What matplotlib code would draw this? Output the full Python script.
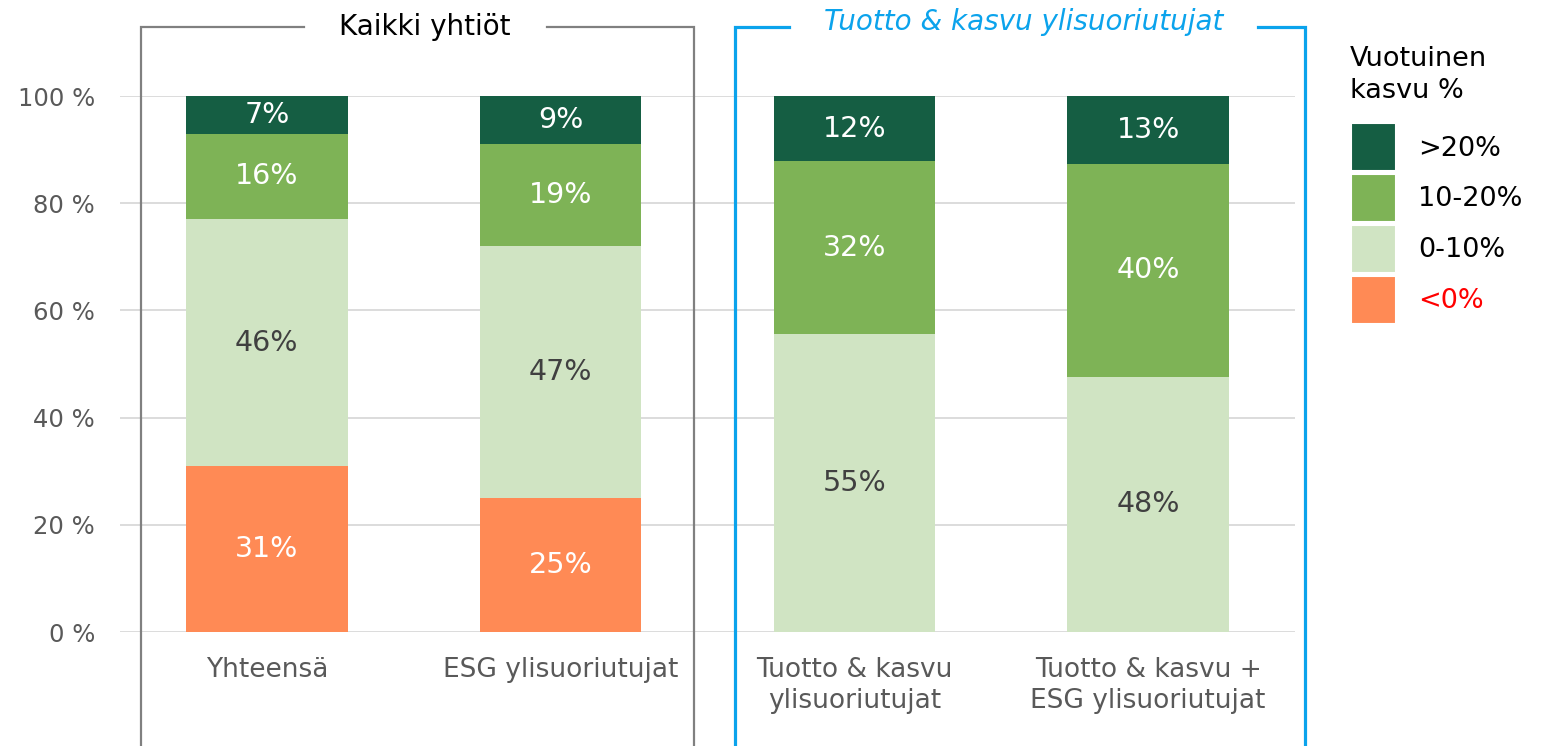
import matplotlib
matplotlib.use("Agg")
import matplotlib.pyplot as plt
from matplotlib.lines import Line2D
from matplotlib.patches import Patch
import numpy as np

categories = ["Yhteensä", "ESG ylisuoriutujat",
              "Tuotto & kasvu\nylisuoriutujat", "Tuotto & kasvu +\nESG ylisuoriutujat"]
series_names = ["<0%", "0-10%", "10-20%", ">20%"]
neg = [31, 25, 0, 0]
low = [46, 47, 55.6, 47.6]
mid = [16, 19, 32.2, 39.7]
high = [7, 9, 12.2, 12.7]
labels_neg = ["31%", "25%", "", ""]
labels_low = ["46%", "47%", "55%", "48%"]
labels_mid = ["16%", "19%", "32%", "40%"]
labels_high = ["7%", "9%", "12%", "13%"]
yticks = [0, 20, 40, 60, 80, 100]
group_titles = ["Kaikki yhtiöt", "Tuotto & kasvu ylisuoriutujat"]

colors = ["#FF8A55", "#D0E4C3", "#7EB356", "#155E43"]
text_colors = ["white", "#404040", "white", "white"]

W, H = 1553, 746
fig = plt.figure(figsize=(W / 100, H / 100), dpi=100)
ax = fig.add_axes([120 / W, 1 - 632 / H, (1295 - 120) / W, (632 - 96) / H])

x = np.arange(len(categories))
width = 0.55
bottom = np.zeros(len(categories))
for vals, labs, c, tc in zip([neg, low, mid, high],
                             [labels_neg, labels_low, labels_mid, labels_high],
                             colors, text_colors):
    vals = np.array(vals, dtype=float)
    ax.bar(x, vals, width, bottom=bottom, color=c, zorder=2)
    for xi, b, v, lab in zip(x, bottom, vals, labs):
        if v > 0:
            ax.text(xi, b + v / 2, lab, ha="center", va="center",
                    fontsize=20.5, color=tc, zorder=3)
    bottom += vals

ax.set_xlim(-0.5, 3.5)
ax.set_ylim(0, 100)
ax.set_yticks(yticks)
ax.set_yticklabels([f"{t} %" for t in yticks], fontsize=17.5, color="#595959")
ax.set_xticks(x)
ax.set_xticklabels(categories, fontsize=19, color="#595959", linespacing=1.25)
ax.tick_params(length=0)
ax.tick_params(axis="y", pad=18)
ax.tick_params(axis="x", pad=18)
ax.grid(axis="y", color="#D9D9D9", linewidth=1.3, zorder=0)
for s in ax.spines.values():
    s.set_visible(False)


def px(xp, yp):
    return xp / W, 1 - yp / H


# legend
handles = [Patch(facecolor=c, edgecolor="white", linewidth=1.5) for c in colors[::-1]]
leg = fig.legend(handles, series_names[::-1], loc="upper left",
                 bbox_to_anchor=px(1327, 99), frameon=False,
                 fontsize=19.5, handlelength=1.66, handleheight=2.35,
                 labelspacing=0.1, handletextpad=0.8)
leg.get_texts()[-1].set_color("red")
fig.text(*px(1350, 46), "Vuotuinen\nkasvu %", ha="left", va="top",
         fontsize=19.5, color="black", linespacing=1.3)


# group boxes
def box(x0, x1, g0, g1, top, color, lw):
    segs = [[(x0, H + 5), (x0, top), (g0, top)], [(g1, top), (x1, top), (x1, H + 5)]]
    for seg in segs:
        xs = [px(a, b)[0] for a, b in seg]
        ys = [px(a, b)[1] for a, b in seg]
        fig.add_artist(Line2D(xs, ys, color=color, linewidth=lw,
                              solid_joinstyle="miter"))


box(141, 694, 304, 547, 27, "#808080", 1.6)
box(735, 1305, 789, 1258, 27, "#0BA3EC", 2.3)
fig.text(*px(425, 27), group_titles[0], ha="center", va="center",
         fontsize=20, color="black")
fig.text(*px(1024, 22), group_titles[1], ha="center", va="center",
         fontsize=20, color="#0BA3EC", style="italic")

fig.savefig("out.png", dpi=100)
